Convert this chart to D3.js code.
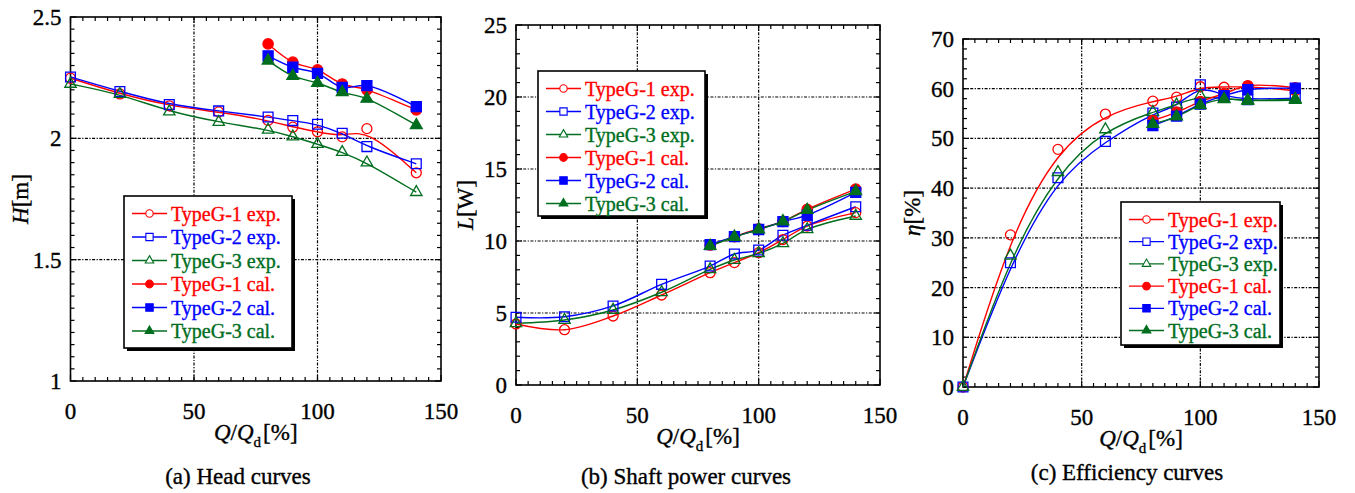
<!DOCTYPE html>
<html>
<head>
<meta charset="utf-8">
<script src="https://cdn.jsdelivr.net/npm/d3@7"></script>
<style>
    body { margin: 0; background: #fff; }
    svg { display: block; font-family: "Liberation Serif", "Times New Roman", Times, serif; }
    svg text { stroke-width: 0.35px; paint-order: stroke; }
</style>
</head>
<body>
<div id="chart"></div>
<script>
/**
 * Pump performance curves: head, shaft power and efficiency
 */

const FLOW_EXP = [0, 20, 40, 60, 80, 90, 100, 110, 120, 140];
const FLOW_CAL = [80, 90, 100, 110, 120, 140];

// head H [m]
const HEAD_G1_EXP = [2.248, 2.183, 2.134, 2.109, 2.074, 2.046, 2.027, 2.006, 2.040, 1.858];
const HEAD_G2_EXP = [2.253, 2.193, 2.139, 2.113, 2.088, 2.073, 2.058, 2.021, 1.966, 1.895];
const HEAD_G3_EXP = [2.224, 2.182, 2.110, 2.067, 2.035, 2.007, 1.976, 1.943, 1.900, 1.778];
const HEAD_G1_CAL = [2.389, 2.314, 2.282, 2.224, 2.200, 2.117];
const HEAD_G2_CAL = [2.340, 2.293, 2.268, 2.210, 2.217, 2.131];
const HEAD_G3_CAL = [2.320, 2.257, 2.228, 2.190, 2.163, 2.054];

// shaft power L [W]
const POWER_G1_EXP = [4.24, 3.84, 4.79, 6.25, 7.80, 8.50, 9.19, 10.10, 11.04, 11.97];
const POWER_G2_EXP = [4.70, 4.74, 5.49, 6.99, 8.26, 9.10, 9.37, 10.40, 11.09, 12.38];
const POWER_G3_EXP = [4.28, 4.51, 5.21, 6.44, 8.03, 8.68, 9.14, 9.84, 10.81, 11.74];
const POWER_G1_CAL = [9.72, 10.30, 10.85, 11.36, 12.20, 13.60];
const POWER_G2_CAL = [9.75, 10.30, 10.80, 11.34, 11.80, 13.38];
const POWER_G3_CAL = [9.65, 10.28, 10.80, 11.36, 12.15, 13.45];

// efficiency eta [%]
const EFF_G1_EXP = [0, 30.6, 47.8, 54.9, 57.5, 58.3, 60.4, 60.3, 60.5, 59.6];
const EFF_G2_EXP = [0, 25.0, 42.1, 49.4, 55.1, 56.3, 60.8, 58.5, 57.8, 58.1];
const EFF_G3_EXP = [0, 26.4, 43.2, 51.8, 55.3, 56.8, 58.6, 58.0, 57.5, 57.7];
const EFF_G1_CAL = [53.6, 55.3, 57.4, 59.0, 60.6, 60.2];
const EFF_G2_CAL = [52.6, 54.5, 56.9, 58.6, 59.8, 60.1];
const EFF_G3_CAL = [52.9, 54.4, 56.7, 57.9, 57.7, 57.9];

const FLOW_TICKS = [0, 50, 100, 150];
const HEAD_TICKS = [1, 1.5, 2, 2.5];
const POWER_TICKS = [0, 5, 10, 15, 20, 25];
const EFF_TICKS = [0, 10, 20, 30, 40, 50, 60, 70];

const SERIES_NAMES = ["TypeG-1 exp.", "TypeG-2 exp.", "TypeG-3 exp.", "TypeG-1 cal.", "TypeG-2 cal.", "TypeG-3 cal."];

const RED = "#ff0000";
const BLUE = "#0000ff";
const GREEN = "#006e1e";

const SERIES_STYLE = [
    { color: RED, symbol: d3.symbolCircle, filled: false, size: 78 },
    { color: BLUE, symbol: d3.symbolSquare, filled: false, size: 96 },
    { color: GREEN, symbol: d3.symbolTriangle, filled: false, size: 56 },
    { color: RED, symbol: d3.symbolCircle, filled: true, size: 84 },
    { color: BLUE, symbol: d3.symbolSquare, filled: true, size: 100 },
    { color: GREEN, symbol: d3.symbolTriangle, filled: true, size: 60 },
];

const PANELS = [
    {
        box: { left: 70.5, right: 441, top: 17, bottom: 381 },
        yDomain: [1, 2.5], yTicks: HEAD_TICKS, yMinor: 0.05,
        yLabel: ["H", "[m]"],
        values: [HEAD_G1_EXP, HEAD_G2_EXP, HEAD_G3_EXP, HEAD_G1_CAL, HEAD_G2_CAL, HEAD_G3_CAL],
        expCurve: d3.curveBasis,
        legend: { x: 124, y: 196, w: 168, h: 152, row: 23.5 },
        caption: "(a) Head curves", captionX: 238, captionY: 484,
    },
    {
        box: { left: 516, right: 880, top: 25, bottom: 385 },
        yDomain: [0, 25], yTicks: POWER_TICKS, yMinor: 1,
        yLabel: ["L", "[W]"],
        values: [POWER_G1_EXP, POWER_G2_EXP, POWER_G3_EXP, POWER_G1_CAL, POWER_G2_CAL, POWER_G3_CAL],
        expCurve: d3.curveCatmullRom.alpha(0.5),
        legend: { x: 538, y: 71, w: 167, h: 145, row: 23 },
        caption: "(b) Shaft power curves", captionX: 686, captionY: 483.5,
    },
    {
        box: { left: 963, right: 1319, top: 39, bottom: 387 },
        yDomain: [0, 70], yTicks: EFF_TICKS, yMinor: 2,
        yLabel: ["\u03b7", "[%]"],
        values: [EFF_G1_EXP, EFF_G2_EXP, EFF_G3_EXP, EFF_G1_CAL, EFF_G2_CAL, EFF_G3_CAL],
        expCurve: d3.curveBasis,
        legend: { x: 1121, y: 202, w: 159, h: 143, row: 22.2 },
        caption: "(c) Efficiency curves", captionX: 1127, captionY: 480,
    },
];

const drawPanel = (svg, panel) => {
    const { left, right, top, bottom } = panel.box;
    const g = svg.append("g");

    const x = d3.scaleLinear().domain([0, 150]).range([left, right]);
    const y = d3.scaleLinear().domain(panel.yDomain).range([bottom, top]);

    // dotted grid at the inner major ticks
    const gridStyle = sel => sel
        .attr("stroke", "#000")
        .attr("stroke-width", 1.2)
        .attr("stroke-dasharray", "3,1.5,1.2,1.5");

    g.selectAll(".grid-x")
        .data(FLOW_TICKS.slice(1, -1))
        .join("line")
        .attr("class", "grid-x")
        .attr("x1", x).attr("x2", x)
        .attr("y1", top).attr("y2", bottom)
        .call(gridStyle);

    g.selectAll(".grid-y")
        .data(panel.yTicks.slice(1, -1))
        .join("line")
        .attr("class", "grid-y")
        .attr("y1", y).attr("y2", y)
        .attr("x1", left).attr("x2", right)
        .call(gridStyle);

    // inward ticks on all four sides
    const xMinor = d3.range(0, 150.001, 5);
    const [y0, y1] = panel.yDomain;
    const yMinor = d3.range(y0, y1 + panel.yMinor / 2, panel.yMinor);
    const tickLen = v => (FLOW_TICKS.includes(v) ? 6 : 4);
    const yTickLen = v => (panel.yTicks.some(t => Math.abs(t - v) < 1e-6) ? 6 : 4);

    const ticks = g.append("g").attr("stroke", "#000").attr("stroke-width", 1.2);
    ticks.selectAll(".tb").data(xMinor).join("line")
        .attr("x1", x).attr("x2", x)
        .attr("y1", bottom).attr("y2", d => bottom - tickLen(d));
    ticks.selectAll(".tt").data(xMinor).join("line")
        .attr("x1", x).attr("x2", x)
        .attr("y1", top).attr("y2", d => top + tickLen(d));
    ticks.selectAll(".tl").data(yMinor).join("line")
        .attr("y1", y).attr("y2", y)
        .attr("x1", left).attr("x2", d => left + yTickLen(d));
    ticks.selectAll(".tr").data(yMinor).join("line")
        .attr("y1", y).attr("y2", y)
        .attr("x1", right).attr("x2", d => right - yTickLen(d));

    g.append("rect")
        .attr("x", left).attr("y", top)
        .attr("width", right - left).attr("height", bottom - top)
        .attr("fill", "none")
        .attr("stroke", "#000")
        .attr("stroke-width", 1.6);

    // tick labels
    g.selectAll(".xl").data(FLOW_TICKS).join("text")
        .attr("x", x)
        .attr("y", bottom + 38)
        .attr("text-anchor", "middle")
        .attr("font-size", 23)
        .attr("stroke", "#000")
        .text(d => d);

    g.selectAll(".yl").data(panel.yTicks).join("text")
        .attr("x", left - 9)
        .attr("y", d => y(d) + 8)
        .attr("text-anchor", "end")
        .attr("font-size", 23)
        .attr("stroke", "#000")
        .text(d => d);

    // axis titles
    const xt = g.append("text")
        .attr("x", (left + right) / 2)
        .attr("y", bottom + 59)
        .attr("text-anchor", "middle")
        .attr("font-size", 23)
        .attr("stroke", "#000");
    xt.append("tspan").attr("font-style", "italic").text("Q");
    xt.append("tspan").text("/");
    xt.append("tspan").attr("font-style", "italic").text("Q");
    xt.append("tspan").attr("font-size", 15).attr("dy", 7).text("d");
    xt.append("tspan").attr("dy", -7).attr("dx", 2).text("[%]");

    const yt = g.append("text")
        .attr("transform", `translate(${left - 43},${(top + bottom) / 2}) rotate(-90)`)
        .attr("text-anchor", "middle")
        .attr("font-size", 23)
        .attr("stroke", "#000");
    yt.append("tspan").attr("font-style", "italic").text(panel.yLabel[0]);
    yt.append("tspan").text(panel.yLabel[1]);

    // curves
    panel.values.forEach((vals, i) => {
        const style = SERIES_STYLE[i];
        const isExp = i < 3;
        const flows = isExp ? FLOW_EXP : FLOW_CAL;
        const pts = vals.map((v, k) => [flows[k], v]);
        const line = d3.line()
            .x(d => x(d[0]))
            .y(d => y(d[1]))
            .curve(isExp ? panel.expCurve : d3.curveCatmullRom.alpha(0.5));
        g.append("path")
            .datum(pts)
            .attr("d", line)
            .attr("fill", "none")
            .attr("stroke", style.color)
            .attr("stroke-width", 1.4);
    });

    panel.values.forEach((vals, i) => {
        const style = SERIES_STYLE[i];
        const flows = i < 3 ? FLOW_EXP : FLOW_CAL;
        const pts = vals.map((v, k) => [flows[k], v]);
        g.append("g").selectAll("path")
            .data(pts)
            .join("path")
            .attr("transform", d => `translate(${x(d[0])},${y(d[1])})`)
            .attr("d", d3.symbol().type(style.symbol).size(style.size))
            .attr("fill", style.filled ? style.color : "none")
            .attr("stroke", style.color)
            .attr("stroke-width", 1.3);
    });

    // legend box with drop shadow
    const lg = panel.legend;
    const legend = g.append("g").attr("transform", `translate(${lg.x},${lg.y})`);
    legend.append("rect")
        .attr("x", 3).attr("y", 3)
        .attr("width", lg.w).attr("height", lg.h)
        .attr("fill", "#000");
    legend.append("rect")
        .attr("width", lg.w).attr("height", lg.h)
        .attr("fill", "#fff")
        .attr("stroke", "#000")
        .attr("stroke-width", 1.6);

    const items = legend.selectAll(".item")
        .data(SERIES_NAMES)
        .join("g")
        .attr("class", "item")
        .attr("transform", (d, i) => `translate(0,${17.5 + i * lg.row})`);

    items.append("line")
        .attr("x1", 8).attr("x2", 43)
        .attr("stroke", (d, i) => SERIES_STYLE[i].color)
        .attr("stroke-width", 1.3);
    items.append("path")
        .attr("transform", "translate(25.5,0)")
        .attr("d", (d, i) => d3.symbol().type(SERIES_STYLE[i].symbol).size(SERIES_STYLE[i].size * 0.55)())
        .attr("fill", (d, i) => (SERIES_STYLE[i].filled ? SERIES_STYLE[i].color : "#fff"))
        .attr("stroke", (d, i) => SERIES_STYLE[i].color)
        .attr("stroke-width", 1.1);
    items.append("text")
        .attr("x", 47)
        .attr("y", 7)
        .attr("font-size", 20)
        .attr("fill", (d, i) => SERIES_STYLE[i].color)
        .attr("stroke", (d, i) => SERIES_STYLE[i].color)
        .text(d => d);

    svg.append("text")
        .attr("x", panel.captionX)
        .attr("y", panel.captionY)
        .attr("text-anchor", "middle")
        .attr("font-size", 23)
        .attr("stroke", "#000")
        .text(panel.caption);
};

const createCharts = () => {
    const svg = d3.select("#chart").append("svg")
        .attr("width", 1355)
        .attr("height", 493);
    PANELS.forEach(panel => drawPanel(svg, panel));
};

window.addEventListener("DOMContentLoaded", () => {
    createCharts();
}, { once: true });
</script>
</body>
</html>
